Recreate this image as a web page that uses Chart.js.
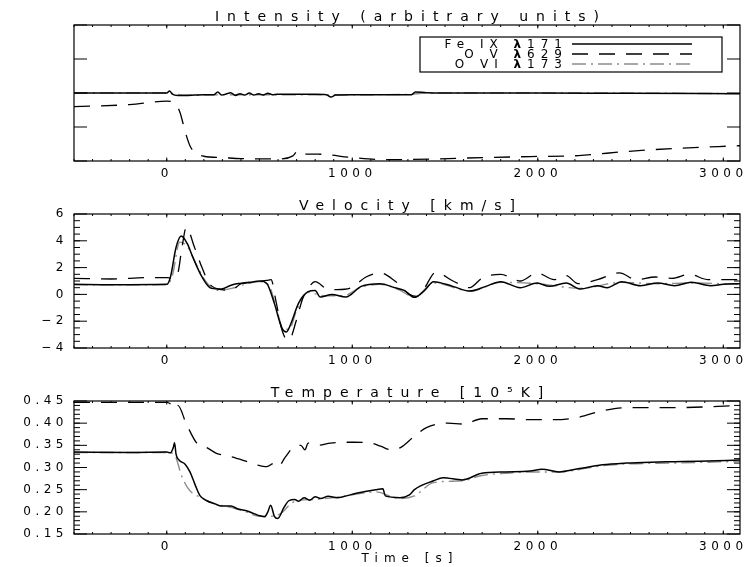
<!DOCTYPE html>
<html>
<head>
<meta charset="utf-8">
<script src="https://cdn.jsdelivr.net/npm/chart.js@4/dist/chart.umd.min.js"></script>
<style>
  body { margin: 0; background: #fff; }
  #wrap { position: relative; width: 754px; height: 567px; }
  .panel { position: absolute; left: 0; width: 754px; }
</style>
</head>
<body>
<div id="wrap">
  <div class="panel" style="top:0;height:190px"><canvas id="intensityChart"></canvas></div>
  <div class="panel" style="top:190px;height:180px"><canvas id="velocityChart"></canvas></div>
  <div class="panel" style="top:370px;height:197px"><canvas id="temperatureChart"></canvas></div>
</div>
<script>
// time axis (s)
const timeMin = -500;
const timeMax = 3090;
const timeTicks = [0, 1000, 2000, 3000];

const lineNames = ['Fe IX ', 'O V ', 'O VI '];
const lineWaves = ['171', '629', '173'];

// intensity (arbitrary units)
const intensityTicks = [0, 1, 2, 3, 4];
const feIntensityT = [-500, 0, 15, 30, 60, 100, 150, 200, 255, 275, 295, 320, 345, 370, 395, 420, 445, 470, 495, 520, 545, 570, 595, 700, 800, 860, 885, 910, 1000, 1100, 1200, 1320, 1340, 1400, 1600, 2000, 2500, 3090];
const feIntensity = [2.0, 2.0, 2.06, 1.97, 1.93, 1.93, 1.94, 1.95, 1.95, 2.03, 1.94, 1.97, 2.01, 1.93, 1.98, 1.94, 2.0, 1.94, 1.98, 1.94, 1.99, 1.95, 1.96, 1.96, 1.96, 1.95, 1.88, 1.94, 1.95, 1.95, 1.95, 1.95, 2.03, 2.01, 2.0, 2.0, 1.99, 1.98];
const ovIntensityT = [-500, -200, 0, 40, 70, 100, 125, 150, 200, 300, 400, 500, 600, 680, 705, 730, 815, 1000, 1180, 1440, 1700, 1960, 2220, 2480, 2740, 3090];
const ovIntensity = [1.6, 1.66, 1.76, 1.7, 1.45, 0.85, 0.45, 0.26, 0.14, 0.1, 0.07, 0.06, 0.06, 0.15, 0.29, 0.2, 0.2, 0.1, 0.04, 0.06, 0.1, 0.13, 0.16, 0.28, 0.37, 0.45];
const oviIntensityT = [-500, 0, 100, 500, 1000, 1300, 1400, 2300, 3090];
const oviIntensity = [2.0, 2.0, 1.94, 1.95, 1.95, 1.96, 2.0, 2.0, 1.98];

// velocity (km/s)
const velocityTicks = [-4, -2, 0, 2, 4, 6];
const feVelocityT = [-500, -300, 0, 20, 50, 78, 110, 140, 190, 240, 295, 340, 370, 437, 502, 540, 580, 620, 645, 670, 710, 762, 800, 827, 890, 965, 1048, 1150, 1230, 1280, 1335, 1390, 1438, 1542, 1633, 1720, 1800, 1905, 1997, 2062, 2153, 2230, 2322, 2374, 2452, 2555, 2646, 2737, 2828, 2932, 3000, 3090];
const feVelocity = [0.75, 0.72, 0.75, 1.3, 3.5, 4.35, 3.8, 2.8, 1.3, 0.45, 0.4, 0.65, 0.78, 0.87, 1.0, 0.8, -0.67, -2.5, -2.8, -2.15, -0.67, 0.2, 0.3, -0.2, 0.0, -0.2, 0.6, 0.8, 0.5, 0.3, -0.22, 0.3, 0.95, 0.6, 0.25, 0.6, 0.95, 0.5, 0.85, 0.6, 0.85, 0.4, 0.65, 0.5, 0.95, 0.65, 0.85, 0.65, 0.9, 0.65, 0.75, 0.8];
const ovVelocityT = [-500, -300, -100, 0, 30, 60, 82, 105, 150, 190, 230, 295, 346, 400, 476, 540, 562, 590, 620, 650, 670, 697, 736, 775, 800, 866, 918, 996, 1074, 1152, 1230, 1308, 1347, 1386, 1450, 1543, 1633, 1698, 1800, 1905, 1997, 2088, 2153, 2217, 2322, 2440, 2530, 2633, 2724, 2815, 2920, 3090];
const ovVelocity = [1.2, 1.15, 1.25, 1.25, 1.2, 1.6, 3.5, 5.0, 3.5, 2.0, 0.8, 0.35, 0.3, 0.8, 0.95, 1.05, 1.1, -0.6, -2.6, -3.4, -3.2, -2.0, -0.2, 0.7, 0.95, 0.4, 0.35, 0.5, 1.3, 1.6, 1.0, 0.0, -0.15, 0.4, 1.65, 1.0, 0.5, 1.2, 1.5, 1.0, 1.6, 1.1, 1.4, 0.8, 1.1, 1.6, 1.1, 1.3, 1.2, 1.5, 1.1, 1.1];
const oviVelocityT = [-500, 0, 30, 70, 110, 160, 220, 280, 350, 420, 500, 550, 590, 630, 660, 700, 760, 850, 950, 1050, 1150, 1250, 1335, 1440, 1640, 1800, 2000, 2230, 2450, 2650, 2830, 3090];
const oviVelocity = [0.72, 0.72, 1.4, 3.9, 3.6, 2.2, 0.8, 0.3, 0.45, 0.75, 0.95, 0.7, -1.0, -2.6, -2.6, -1.2, 0.15, -0.1, -0.1, 0.55, 0.75, 0.35, -0.2, 0.85, 0.25, 0.9, 0.8, 0.45, 0.9, 0.8, 0.85, 0.75];

// temperature (10^5 K)
const temperatureTicks = [0.15, 0.20, 0.25, 0.30, 0.35, 0.40, 0.45];
const feTemperatureT = [-500, -200, 0, 20, 35, 42, 50, 66, 100, 125, 152, 178, 216, 260, 294, 347, 380, 425, 470, 502, 528, 545, 560, 580, 598, 632, 658, 690, 710, 740, 770, 800, 830, 870, 918, 1022, 1126, 1165, 1178, 1257, 1308, 1335, 1438, 1490, 1594, 1698, 1828, 1958, 2023, 2114, 2217, 2348, 2478, 2608, 2738, 2868, 3090];
const feTemperature = [0.335, 0.334, 0.335, 0.333, 0.345, 0.356, 0.33, 0.317, 0.307, 0.29, 0.262, 0.237, 0.225, 0.218, 0.213, 0.213, 0.207, 0.203, 0.196, 0.191, 0.189, 0.2, 0.215, 0.19, 0.185, 0.21, 0.225, 0.228, 0.224, 0.232, 0.226, 0.234, 0.23, 0.235, 0.232, 0.242, 0.25, 0.252, 0.236, 0.232, 0.238, 0.25, 0.27, 0.277, 0.272, 0.287, 0.29, 0.292, 0.296, 0.29, 0.297, 0.306, 0.31, 0.312, 0.313, 0.314, 0.317];
const ovTemperatureT = [-500, -100, 0, 30, 45, 60, 104, 162, 216, 268, 340, 420, 486, 540, 576, 600, 640, 685, 723, 745, 762, 814, 883, 1009, 1100, 1152, 1207, 1260, 1333, 1400, 1514, 1600, 1698, 1828, 1958, 2088, 2217, 2348, 2478, 2738, 3090];
const ovTemperature = [0.447, 0.447, 0.447, 0.44, 0.432, 0.44, 0.40, 0.355, 0.345, 0.332, 0.325, 0.315, 0.306, 0.302, 0.309, 0.302, 0.324, 0.347, 0.35, 0.34, 0.355, 0.35, 0.355, 0.357, 0.355, 0.348, 0.34, 0.345, 0.37, 0.39, 0.40, 0.398, 0.41, 0.41, 0.408, 0.408, 0.413, 0.428, 0.435, 0.435, 0.44];
const oviTemperatureT = [-500, 0, 40, 81, 120, 178, 260, 347, 425, 500, 560, 620, 660, 700, 800, 900, 1022, 1130, 1200, 1257, 1335, 1438, 1594, 1698, 1828, 1958, 2114, 2217, 2348, 2478, 2738, 3090];
const oviTemperature = [0.334, 0.334, 0.33, 0.28, 0.25, 0.233, 0.218, 0.21, 0.2, 0.19, 0.19, 0.198, 0.215, 0.225, 0.228, 0.232, 0.24, 0.245, 0.236, 0.23, 0.236, 0.266, 0.27, 0.282, 0.287, 0.29, 0.29, 0.295, 0.304, 0.308, 0.31, 0.314];

const FONT = '"DejaVu Sans", "Liberation Sans", sans-serif';
const pts = (ts, vs) => ts.map((t, i) => ({ x: t, y: vs[i] }));

function series(ts, vs, kind) {
  const base = { data: pts(ts, vs), pointRadius: 0, fill: false, cubicInterpolationMode: 'monotone' };
  if (kind === 0) return { ...base, label: 'Fe IX', borderColor: '#000', borderWidth: 1.5, order: 0 };
  if (kind === 1) return { ...base, label: 'O V', borderColor: '#000', borderWidth: 1.3, borderDash: [16, 11], order: 1 };
  return { ...base, label: 'O VI', borderColor: '#8c8c8c', borderWidth: 1.4, borderDash: [14, 5, 2, 5], order: 2 };
}

// plot frame, inward IDL-style ticks, titles and the line legend
const framePlugin = {
  id: 'frame',
  beforeDraw(chart) {
    chart.ctx.letterSpacing = '4.5px';
  },
  afterDraw(chart, args, o) {
    const { ctx, chartArea: a, scales: { x, y } } = chart;
    ctx.save();
    ctx.strokeStyle = '#000';
    ctx.lineWidth = 1.2;
    ctx.strokeRect(a.left, a.top, a.right - a.left, a.bottom - a.top);

    ctx.lineWidth = 1;
    ctx.beginPath();
    const xTick = (v, len) => {
      const p = x.getPixelForValue(v);
      ctx.moveTo(p, a.bottom); ctx.lineTo(p, a.bottom - len);
      ctx.moveTo(p, a.top); ctx.lineTo(p, a.top + len);
    };
    const yTick = (v, len) => {
      const p = y.getPixelForValue(v);
      ctx.moveTo(a.left, p); ctx.lineTo(a.left + len, p);
      ctx.moveTo(a.right, p); ctx.lineTo(a.right - len, p);
    };
    for (let v = Math.ceil(x.min / 100) * 100; v <= x.max; v += 100) xTick(v, 2);
    timeTicks.forEach(v => xTick(v, 3.5));
    if (o.yMinor) {
      const n = Math.round((y.max - y.min) / o.yMinor);
      for (let i = 1; i < n; i++) yTick(y.min + i * o.yMinor, 6);
    }
    o.yTicks.forEach(v => yTick(v, 13));
    ctx.stroke();

    ctx.fillStyle = '#000';
    ctx.textAlign = 'center';
    ctx.textBaseline = 'alphabetic';
    ctx.font = '14px ' + FONT;
    ctx.letterSpacing = '8px';
    ctx.fillText(o.title, (a.left + a.right) / 2 + 4, a.top - 4);

    if (o.xTitle) {
      ctx.font = '12px ' + FONT;
      ctx.letterSpacing = '6px';
      ctx.fillText(o.xTitle, (a.left + a.right) / 2 + 3, a.bottom + 28);
    }

    if (o.legend) {
      const bx = a.right - 18 - 302, by = a.top + 12;
      ctx.lineWidth = 1.2;
      ctx.strokeRect(bx, by, 302, 35);
      ctx.textAlign = 'left';
      ctx.letterSpacing = '6px';
      chart.data.datasets.forEach((ds, i) => {
        const ly = by + 7 + i * 10;
        const reg = '12px ' + FONT, bold = 'bold 12px ' + FONT;
        ctx.font = reg;
        const w1 = ctx.measureText(lineNames[i]).width;
        const w3 = ctx.measureText(lineWaves[i]).width;
        ctx.font = bold;
        const w2 = ctx.measureText('\u03bb').width;
        let tx = bx + 148 - (w1 + w2 + w3);
        ctx.textBaseline = 'middle';
        ctx.font = reg; ctx.fillText(lineNames[i], tx, ly + 1);
        ctx.font = bold; ctx.fillText('\u03bb', tx + w1, ly + 1);
        ctx.font = reg; ctx.fillText(lineWaves[i], tx + w1 + w2, ly + 1);
        ctx.beginPath();
        ctx.strokeStyle = ds.borderColor;
        ctx.lineWidth = ds.borderWidth;
        ctx.setLineDash(ds.borderDash || []);
        ctx.moveTo(bx + 152, ly); ctx.lineTo(bx + 272, ly);
        ctx.stroke();
        ctx.setLineDash([]);
      });
    }
    ctx.restore();
  }
};

function makePanel(id, cfg) {
  new Chart(document.getElementById(id), {
    type: 'line',
    data: { datasets: cfg.datasets },
    plugins: [framePlugin],
    options: {
      responsive: true,
      maintainAspectRatio: false,
      animation: false,
      layout: { padding: { top: cfg.top, right: 14, left: 0, bottom: 0 } },
      plugins: {
        legend: { display: false },
        tooltip: { enabled: false },
        frame: { title: cfg.title, xTitle: cfg.xTitle, yTicks: cfg.yTicks, yMinor: cfg.yMinor, legend: cfg.legend }
      },
      scales: {
        x: {
          type: 'linear',
          min: timeMin,
          max: timeMax,
          grid: { display: false, drawTicks: false },
          border: { display: false },
          afterBuildTicks: s => { s.ticks = timeTicks.map(v => ({ value: v })); },
          afterFit: s => { s.height = cfg.axisH; },
          ticks: {
            color: '#000', font: { family: FONT, size: 12 }, padding: 6, maxRotation: 0, autoSkip: false,
            callback: v => String(v)
          }
        },
        y: {
          type: 'linear',
          min: cfg.yTicks[0],
          max: cfg.yTicks[cfg.yTicks.length - 1],
          grid: { display: false, drawTicks: false },
          border: { display: false },
          afterBuildTicks: s => { s.ticks = cfg.yTicks.map(v => ({ value: v })); },
          afterFit: s => { s.width = 74; },
          ticks: {
            display: cfg.yLabels,
            color: '#000',
            font: { family: FONT, size: 12 },
            padding: 6,
            callback: cfg.yFormat
          }
        }
      }
    }
  });
}

makePanel('intensityChart', {
  title: 'Intensity (arbitrary units)',
  top: 25, axisH: 29,
  yTicks: intensityTicks, yMinor: null, yLabels: false, legend: true,
  datasets: [
    series(feIntensityT, feIntensity, 0),
    series(ovIntensityT, ovIntensity, 1),
    series(oviIntensityT, oviIntensity, 2)
  ]
});

makePanel('velocityChart', {
  title: 'Velocity [km/s]',
  top: 24, axisH: 22,
  yTicks: velocityTicks, yMinor: 0.5, yLabels: true,
  yFormat: v => (v < 0 ? '\u2212' + Math.abs(v) : String(v)),
  datasets: [
    series(feVelocityT, feVelocity, 0),
    series(ovVelocityT, ovVelocity, 1),
    series(oviVelocityT, oviVelocity, 2)
  ]
});

makePanel('temperatureChart', {
  title: 'Temperature [10\u2075K]',
  xTitle: 'Time [s]',
  top: 31, axisH: 33,
  yTicks: temperatureTicks, yMinor: 0.01, yLabels: true,
  yFormat: v => v.toFixed(2),
  datasets: [
    series(feTemperatureT, feTemperature, 0),
    series(ovTemperatureT, ovTemperature, 1),
    series(oviTemperatureT, oviTemperature, 2)
  ]
});
</script>
</body>
</html>
